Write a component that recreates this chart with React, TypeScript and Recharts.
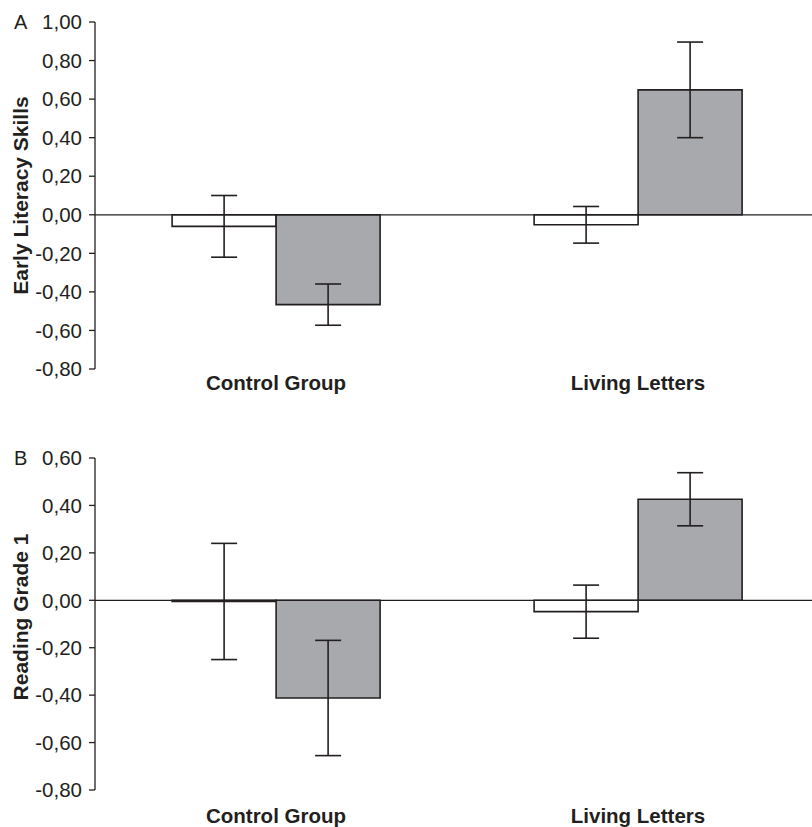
import React from 'react';
import { BarChart, Bar, XAxis, YAxis, ErrorBar, ReferenceLine, Label } from 'recharts';

const categories = ['Control Group', 'Living Letters'];

const earlyWhite = [-0.06, -0.052];
const earlyWhiteErr = [0.16, 0.095];
const earlyGray = [-0.466, 0.648];
const earlyGrayErr = [0.107, 0.248];
const earlyTicks = [-0.8, -0.6, -0.4, -0.2, 0, 0.2, 0.4, 0.6, 0.8, 1.0];

const readWhite = [-0.005, -0.048];
const readWhiteErr = [0.245, 0.112];
const readGray = [-0.412, 0.426];
const readGrayErr = [0.243, 0.112];
const readTicks = [-0.8, -0.6, -0.4, -0.2, 0, 0.2, 0.4, 0.6];

const INK = '#231f20';
const GRAY = '#a7a9ac';
const FONT = '"Liberation Sans", Arial, Helvetica, sans-serif';

const build = (w: number[], we: number[], g: number[], ge: number[]) =>
  categories.map((c, i) => ({ cat: c, white: w[i], whiteErr: we[i], gray: g[i], grayErr: ge[i] }));

const fmt = (v: number) => v.toFixed(2).replace('.', ',');

type PanelProps = {
  data: any[];
  ticks: number[];
  letter: string;
  title: string;
  height: number;
  top: number;
  xHeight: number;
  xTickMargin: number;
  labelShift: number;
  bTick: number;
};

function Panel(p: PanelProps) {
  const dom: [number, number] = [p.ticks[0], p.ticks[p.ticks.length - 1]];
  return (
    <BarChart
      width={830}
      height={p.height}
      data={p.data}
      margin={{ top: p.top, right: 11, left: 0, bottom: 0 }}
      barCategoryGap="21.3%"
      barGap={0}
      style={{ fontFamily: FONT }}
    >
      <XAxis
        dataKey="cat"
        axisLine={false}
        tickLine={false}
        height={p.xHeight}
        tickMargin={p.xTickMargin}
        tick={{ fill: INK, fontSize: 20.5, fontWeight: 'bold', fontFamily: FONT }}
      />
      <XAxis xAxisId="n" type="number" domain={[0, 2]} hide />
      <YAxis
        width={95}
        type="number"
        domain={dom}
        ticks={p.ticks}
        interval={0}
        tickFormatter={fmt}
        tickSize={6}
        tickMargin={7}
        axisLine={{ stroke: INK, strokeWidth: 1.3 }}
        tickLine={{ stroke: INK, strokeWidth: 1.3 }}
        tick={{ fill: INK, fontSize: 20.5, fontFamily: FONT }}
        allowDataOverflow
      >
        <Label
          content={(lp: any) => {
            const vb = lp.viewBox || { x: 0, y: p.top, width: 95, height: 300 };
            const cy = vb.y + vb.height / 2 + p.labelShift;
            return (
              <g>
                <text x={14} y={vb.y + 7} fill={INK} fontSize={20} fontFamily={FONT}>
                  {p.letter}
                </text>
                <text
                  x={20}
                  y={cy}
                  transform={`rotate(-90, 20, ${cy})`}
                  textAnchor="middle"
                  dominantBaseline="central"
                  fill={INK}
                  fontSize={21}
                  fontWeight="bold"
                  fontFamily={FONT}
                >
                  {p.title}
                </text>
              </g>
            );
          }}
        />
      </YAxis>
      <ReferenceLine y={0} stroke={INK} strokeWidth={1.3} />
      <ReferenceLine
        xAxisId="n"
        segment={[{ x: 1, y: 0 }, { x: 1, y: p.bTick }]}
        stroke={INK}
        strokeWidth={1.2}
      />
      <Bar dataKey="white" fill="#ffffff" stroke={INK} strokeWidth={1.6} isAnimationActive={false}>
        <ErrorBar dataKey="whiteErr" width={13} stroke={INK} strokeWidth={1.6} />
      </Bar>
      <Bar dataKey="gray" fill={GRAY} stroke={INK} strokeWidth={1.6} isAnimationActive={false}>
        <ErrorBar dataKey="grayErr" width={13} stroke={INK} strokeWidth={1.6} />
      </Bar>
    </BarChart>
  );
}

export default function App() {
  const early = build(earlyWhite, earlyWhiteErr, earlyGray, earlyGrayErr);
  const read = build(readWhite, readWhiteErr, readGray, readGrayErr);
  return (
    <div
      style={{
        position: 'absolute',
        left: 0,
        top: 0,
        width: 812,
        height: 827,
        overflow: 'hidden',
        background: '#fff',
      }}
    >
      <Panel
        data={early}
        ticks={earlyTicks}
        letter="A"
        title="Early Literacy Skills"
        height={410}
        top={22}
        xHeight={41}
        xTickMargin={0}
        labelShift={0}
        bTick={-0.036}
      />
      <Panel
        data={read}
        ticks={readTicks}
        letter="B"
        title="Reading Grade 1"
        height={417}
        top={48}
        xHeight={37}
        xTickMargin={12}
        labelShift={-7}
        bTick={-0.024}
      />
    </div>
  );
}
